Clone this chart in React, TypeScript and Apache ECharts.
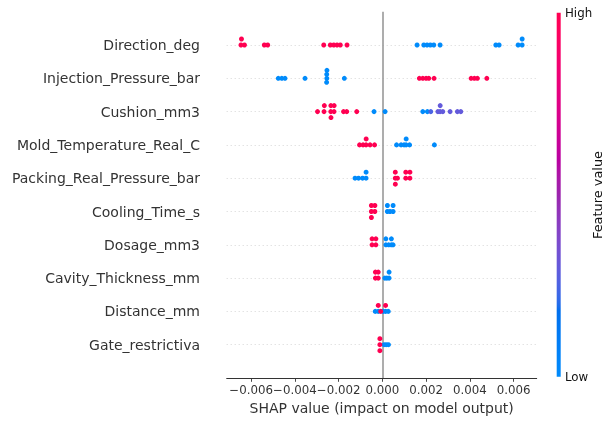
import React, { useEffect, useRef } from "react";
import * as echarts from "echarts";

// Features, bottom row (least important) to top row
const featureNames = [
  "Gate_restrictiva",
  "Distance_mm",
  "Cavity_Thickness_mm",
  "Dosage_mm3",
  "Cooling_Time_s",
  "Packing_Real_Pressure_bar",
  "Mold_Temperature_Real_C",
  "Cushion_mm3",
  "Injection_Pressure_bar",
  "Direction_deg",
];

// SHAP values and (normalised) feature values per feature
const gateShap = [0.0000778, 0.000178, 0.000279, -0.000114, -0.0001138, -0.0001136];
const gateFeat = [0, 0, 0, 1, 1, 1];

const distanceShap = [-0.000325, -0.000188, 0.000032, 0.000146, 0.00027, -0.000187, -0.000073, 0.000147];
const distanceFeat = [0, 0, 0, 0, 0, 1, 1, 1];

const cavityShap = [0.000114, 0.000206, 0.000307, 0.000308, -0.00032, -0.000319, -0.000188, -0.000187];
const cavityFeat = [0, 0, 0, 0, 1, 1, 1, 1];

const dosageShap = [0.00016, 0.000161, 0.000288, 0.000412, 0.000413, 0.00049, -0.000471, -0.00047, -0.000297, -0.000296];
const dosageFeat = [0, 0, 0, 0, 0, 0, 1, 1, 1, 1];

const coolingShap = [0.000229, 0.00023, 0.000352, 0.00049, 0.000491, -0.000503, -0.000502, -0.000501, -0.000343, -0.000342];
const coolingFeat = [0, 0, 0, 0, 0, 1, 1, 1, 1, 1];

const packingShap = [-0.001249, -0.001089, -0.000906, -0.000746, -0.000744, 0.00059, 0.000592, 0.000594, 0.00069, 0.00107, 0.001071, 0.001259, 0.001261];
const packingFeat = [0, 0, 0, 0, 0, 1, 1, 1, 1, 1, 1, 1, 1];

const moldShap = [0.00065, 0.000856, 0.000993, 0.001085, 0.001089, 0.001245, 0.00238, -0.001043, -0.000883, -0.000746, -0.000741, -0.000563, -0.000357];
const moldFeat = [0, 0, 0, 0, 0, 0, 0, 1, 1, 1, 1, 1, 1];

const cushionShap = [
  -0.00038, 0.000124, 0.001849, 0.00206,
  0.002215, 0.00254, 0.00264, 0.002645, 0.002764, 0.003098, 0.003432, 0.003588,
  -0.002966, -0.002668, -0.002654, -0.00236, -0.002355, -0.00235, -0.00221, -0.002205, -0.001776, -0.001629, -0.001172,
];
const cushionFeat = [
  0, 0, 0, 0,
  0.25, 0.3, 0.3, 0.3, 0.3, 0.3, 0.3, 0.3,
  1, 1, 1, 1, 1, 1, 1, 1, 1, 1, 1,
];

const injectionShap = [
  -0.00476, -0.0046, -0.004453, -0.003538, -0.00254, -0.002545, -0.00255, -0.002535, -0.001739,
  0.001693, 0.001849, 0.002, 0.002124, 0.002366, 0.00406, 0.00421, 0.004348, 0.004778,
];
const injectionFeat = [0, 0, 0, 0, 0, 0, 0, 0, 0, 1, 1, 1, 1, 1, 1, 1, 1, 1];

const directionShap = [
  0.001588, 0.001895, 0.002046, 0.002197, 0.002352, 0.002641, 0.00519, 0.005341, 0.00621, 0.006393, 0.006395,
  -0.006467, -0.006444, -0.006307, -0.0054, -0.005245, -0.002682, -0.00238, -0.002224, -0.002073, -0.001922, -0.001616,
];
const directionFeat = [0, 0, 0, 0, 0, 0, 0, 0, 0, 0, 0, 1, 1, 1, 1, 1, 1, 1, 1, 1, 1, 1];

const rows: [number[], number[]][] = [
  [gateShap, gateFeat],
  [distanceShap, distanceFeat],
  [cavityShap, cavityFeat],
  [dosageShap, dosageFeat],
  [coolingShap, coolingFeat],
  [packingShap, packingFeat],
  [moldShap, moldFeat],
  [cushionShap, cushionFeat],
  [injectionShap, injectionFeat],
  [directionShap, directionFeat],
];

const xTicks = [-0.006, -0.004, -0.002, 0, 0.002, 0.004, 0.006];

// SHAP beeswarm vertical offsets
function swarm(vals: number[]): number[] {
  const n = vals.length;
  const mn = Math.min(...vals);
  const mx = Math.max(...vals);
  const nbins = 100;
  const quant = vals.map((v) => Math.round((nbins * (v - mn)) / (mx - mn + 1e-8)));
  const inds = vals.map((_, i) => i).sort((a, b) => quant[a] - quant[b] || a - b);
  let layer = 0;
  let last = -1;
  const ys = new Array(n).fill(0);
  for (const ind of inds) {
    if (quant[ind] !== last) layer = 0;
    ys[ind] = Math.ceil(layer / 2) * ((layer % 2) * 2 - 1);
    layer += 1;
    last = quant[ind];
  }
  const m = Math.max(...ys.map((y) => y + 1));
  return ys.map((y) => y * 0.9 * (0.4 / m));
}

// SHAP red_blue colormap (LCH interpolation)
function lch2rgb(l: number, c: number, h: number): string {
  const a = c * Math.cos(h);
  const b = c * Math.sin(h);
  const fy = (l + 16) / 116;
  const fx = fy + a / 500;
  const fz = fy - b / 200;
  const finv = (t: number) => (t > 0.2068966 ? t * t * t : (t - 16 / 116) / 7.787);
  const X = finv(fx) * 0.95047;
  const Y = finv(fy);
  const Z = finv(fz) * 1.08883;
  const lin = [
    3.24048134 * X - 1.53715152 * Y - 0.49853633 * Z,
    -0.96925495 * X + 1.87599 * Y + 0.04155593 * Z,
    0.05564664 * X - 0.20404134 * Y + 1.05731107 * Z,
  ];
  const rgb = lin.map((v) => {
    let g = v > 0.0031308 ? 1.055 * Math.pow(v, 1 / 2.4) - 0.055 : v * 12.92;
    g = Math.min(1, Math.max(0, g));
    return Math.round(g * 255);
  });
  return `rgb(${rgb[0]},${rgb[1]},${rgb[2]})`;
}

function buildCmap(): string[] {
  const n = 100;
  const out: string[] = [];
  const h0 = 4.6588;
  const h1 = 0.35470565 + 2 * Math.PI;
  for (let i = 0; i < n; i++) {
    const l = i < n / 2 ? 54 + ((40 - 54) * i) / (n / 2 - 1) : 40 + ((54 - 40) * (i - n / 2)) / (n / 2 - 1);
    const c = 70 + ((90 - 70) * i) / (n - 1);
    const h = h0 + ((h1 - h0) * i) / (n - 1);
    out.push(lch2rgb(l, c, h));
  }
  return out;
}

const FONT = "DejaVu Sans";

export default function App() {
  const ref = useRef<HTMLDivElement>(null);

  useEffect(() => {
    if (!ref.current) return;
    const chart = echarts.init(ref.current, undefined, { renderer: "svg" });
    const cmap = buildCmap();

    const data: number[][] = [];
    rows.forEach(([sv, fv], pos) => {
      const off = swarm(sv);
      sv.forEach((v, i) => data.push([v, pos + off[i], fv[i]]));
    });

    const rowLines = featureNames.map((_, i) => ({
      yAxis: i,
      lineStyle: { color: "#cccccc", width: 0.8, type: [1, 3] as any },
    }));

    const gridLeft = 226.7;
    const gridRight = 536.7;
    const gridTop = 11.7;
    const gridBottom = 378;

    const stops = cmap.map((c, i) => ({ offset: i / (cmap.length - 1), color: c }));

    chart.setOption({
      animation: false,
      textStyle: { fontFamily: FONT },
      grid: {
        left: gridLeft,
        right: 613 - gridRight,
        top: gridTop,
        bottom: 421 - gridBottom,
        containLabel: false,
      },
      xAxis: {
        type: "value",
        min: -0.00712,
        max: 0.00706,
        axisLine: { show: true, onZero: false, lineStyle: { color: "#333333", width: 1 } },
        axisTick: { show: true, customValues: xTicks, length: 3.8, lineStyle: { color: "#333333", width: 0.9 } },
        axisLabel: {
          customValues: xTicks,
          fontSize: 11.8,
          color: "#333333",
          fontFamily: FONT,
          margin: 6,
          formatter: (v: number) => (Math.abs(v) < 1e-12 ? "0.000" : v.toFixed(3)).replace("-", "\u2212"),
        },
        splitLine: { show: false },
        name: "SHAP value (impact on model output)",
        nameLocation: "middle",
        nameGap: 22,
        nameTextStyle: { fontSize: 14, color: "#333333", fontFamily: FONT },
      },
      yAxis: {
        type: "value",
        min: -1,
        max: 10,
        interval: 1,
        axisLine: { show: false },
        axisTick: { show: false },
        splitLine: { show: false },
        axisLabel: {
          fontSize: 14,
          color: "#333333",
          fontFamily: FONT,
          margin: 26.7,
          formatter: (v: number) => featureNames[v] ?? "",
        },
      },
      visualMap: {
        show: false,
        type: "continuous",
        min: 0,
        max: 1,
        dimension: 2,
        seriesIndex: 0,
        inRange: { color: cmap },
      },
      series: [
        {
          type: "scatter",
          data,
          symbolSize: 5,
          z: 2,
          itemStyle: { opacity: 1, borderWidth: 0 },
          markLine: {
            z: 1,
            silent: true,
            symbol: ["none", "none"],
            label: { show: false },
            data: [
              ...rowLines,
              { xAxis: 0, lineStyle: { color: "#999999", width: 1.6, type: "solid" } },
            ],
          },
        },
      ],
      graphic: [
        {
          type: "rect",
          shape: { x: 556.7, y: 12.7, width: 4, height: 364 },
          style: { fill: new echarts.graphic.LinearGradient(0, 1, 0, 0, stops) },
          silent: true,
        },
        {
          type: "text",
          x: 565,
          y: 12.7,
          style: { text: "High", fontSize: 11.8, fontFamily: FONT, fill: "#111111", align: "left", verticalAlign: "middle" },
        },
        {
          type: "text",
          x: 565,
          y: 377,
          style: { text: "Low", fontSize: 11.8, fontFamily: FONT, fill: "#111111", align: "left", verticalAlign: "middle" },
        },
        {
          type: "text",
          x: 597,
          y: 195,
          rotation: Math.PI / 2,
          style: { text: "Feature value", fontSize: 12.9, fontFamily: FONT, fill: "#111111", align: "center", verticalAlign: "middle" },
        },
      ],
    });

    return () => chart.dispose();
  }, []);

  return <div ref={ref} style={{ position: "fixed", left: 0, top: 0, width: 613, height: 421 }} />;
}
